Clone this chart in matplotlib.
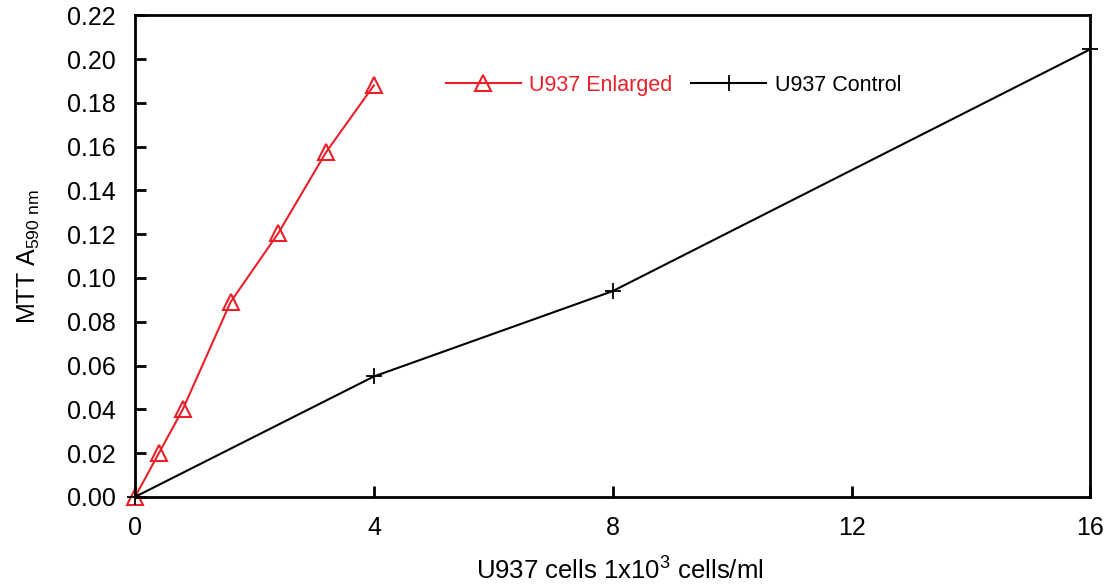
import matplotlib
matplotlib.use("Agg")
import matplotlib.pyplot as plt

# values
enlarged_x = [0, 0.4, 0.8, 1.6, 2.4, 3.2, 4.0]
enlarged_y = [0.0, 0.020, 0.040, 0.089, 0.1205, 0.1575, 0.188]
control_x = [0, 4, 8, 16]
control_y = [0.0, 0.055, 0.094, 0.2045]
x_ticks = [0, 4, 8, 12, 16]
y_ticks = [0.00, 0.02, 0.04, 0.06, 0.08, 0.10, 0.12, 0.14, 0.16, 0.18, 0.20, 0.22]

plt.rcParams['font.family'] = ['Liberation Sans', 'DejaVu Sans']

fig = plt.figure(figsize=(11.07, 5.88), dpi=100)
ax = fig.add_axes([0.122, 0.155, 0.863, 0.819])

red = '#e8202a'
l1, = ax.plot(enlarged_x, enlarged_y, color=red, lw=1.5, marker='^', markersize=11,
              markerfacecolor='none', markeredgecolor=red, markeredgewidth=1.5,
              label='U937 Enlarged', clip_on=False)
l2, = ax.plot(control_x, control_y, color='black', lw=1.5, marker='+', markersize=11,
              markeredgewidth=1.3, label='U937 Control', clip_on=False)

ax.set_xlim(0, 16)
ax.set_ylim(0, 0.22)
ax.set_xticks(x_ticks)
ax.set_yticks(y_ticks)
ax.set_yticklabels(['%.2f' % v for v in y_ticks])
ax.tick_params(direction='in', length=8, width=2, labelsize=18)
ax.tick_params(axis='y', pad=14)
ax.tick_params(axis='x', pad=14)
for s in ax.spines.values():
    s.set_linewidth(2)

ax.set_ylabel('MTT A$_{\\mathregular{590\\ nm}}$', fontsize=18, labelpad=18)
fig.text(0.56, 0.008, 'U937 cells 1x10$^{\\mathregular{3}}$ cells/ml', fontsize=18.5,
         ha='center', va='bottom')

leg = ax.legend(handles=[l1, l2], loc='center left', bbox_to_anchor=(0.325, 0.855),
                ncol=2, frameon=False, fontsize=15.5, handlelength=3.5,
                columnspacing=0.85, handletextpad=0.4, borderpad=0, borderaxespad=0)
leg.get_texts()[0].set_color(red)

fig.savefig('out.png', dpi=100)
